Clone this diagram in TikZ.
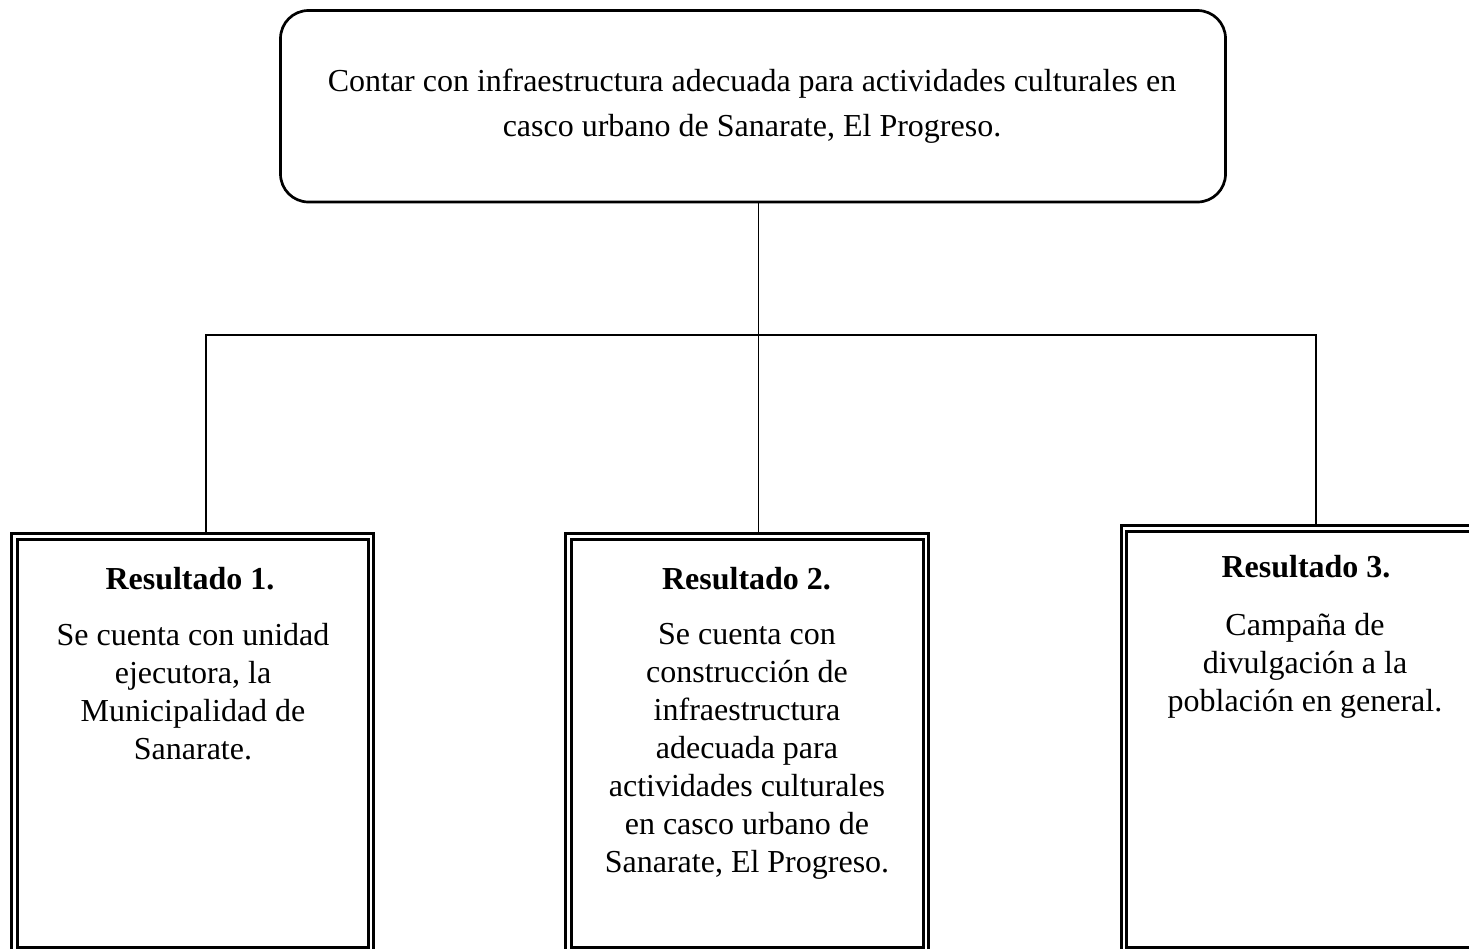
\documentclass[tikz,border=0pt]{standalone}
\usepackage{fontspec}
\setmainfont{Liberation Serif}
\usetikzlibrary{backgrounds}
\begin{document}
\begin{tikzpicture}[x=1pt,y=-1pt,
  goalbox/.style={draw, line width=2.7pt, rounded corners=28pt, minimum width=945pt, minimum height=191.5pt, inner sep=0pt},
  resbox/.style={draw, line width=3.2pt, double=white, double distance=2.2pt, inner sep=0pt},
  link/.style={draw, line width=1.3pt},
  bodytxt/.style={anchor=north, inner sep=0pt, align=center, font=\fontsize{32}{38}\selectfont},
  titletxt/.style={anchor=north, inner sep=0pt, align=center, font=\fontsize{32}{38}\selectfont\bfseries}]
\useasboundingbox (0,0) rectangle (1469,948);
\clip (0,0) rectangle (1469,948);
\node[goalbox] (top) at (753,106.25) {};
\node[bodytxt, font=\fontsize{32}{45}\selectfont] (ttext) at (752,69)
  {Contar con infraestructura adecuada para actividades culturales en\\casco urbano de Sanarate, El Progreso.};
\node[resbox, minimum width=356.5pt, minimum height=414pt] (b1) at (192.75,743.5) {};
\node[resbox, minimum width=357.5pt, minimum height=414pt] (b2) at (747.25,743.5) {};
\node[resbox, minimum width=366pt, minimum height=422pt] (b3) at (1307,739.5) {};
\coordinate (j1) at (206,335);
\coordinate (j2) at (758.5,335);
\coordinate (j3) at (1316,335);
\begin{scope}[on background layer]
\draw[link] (top.south -| j2) -- (b2.north -| j2);
\draw[link] (b1.north -| j1) -- (j1) -- (j3) -- (b3.north -| j3);
\end{scope}
\node[titletxt] (t1) at (190,567) {Resultado 1.};
\node[bodytxt] (d1) at (193,623) {Se cuenta con unidad\\ejecutora, la\\Municipalidad de\\Sanarate.};
\node[titletxt] (t2) at (746.5,567) {Resultado 2.};
\node[bodytxt] (d2) at (747,623) {Se cuenta con\\construcción de\\infraestructura\\adecuada para\\actividades culturales\\en casco urbano de\\Sanarate, El Progreso.};
\node[titletxt] (t3) at (1306,555) {Resultado 3.};
\node[bodytxt] (d3) at (1305,613) {Campaña de\\divulgación a la\\población en general.};
\end{tikzpicture}
\end{document}
